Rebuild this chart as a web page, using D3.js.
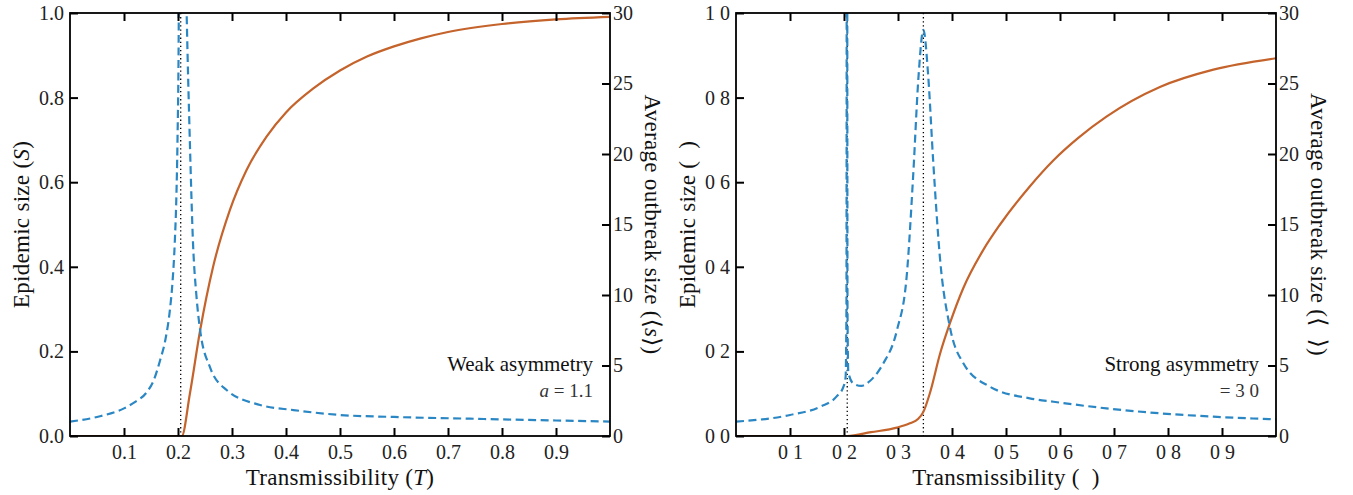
<!DOCTYPE html>
<html>
<head>
<meta charset="utf-8">
<script src="https://cdn.jsdelivr.net/npm/d3@7"></script>
<style>
  html, body { margin: 0; padding: 0; background: #fff; }
  svg { display: block; }
  svg text { white-space: pre; font-family: "Liberation Serif", "DejaVu Serif", serif; }
</style>
</head>
<body>
<svg id="chart" width="1353" height="495"></svg>
<script>
// ---------------- DATA ----------------
// Panel A: weak asymmetry (a = 1.1)
const weakEpidemicT = [0, 0.207, 0.222, 0.241, 0.265, 0.296, 0.327, 0.364, 0.4, 0.45, 0.5, 0.55, 0.6, 0.65, 0.7, 0.8, 0.9, 1.0];
const weakEpidemicS = [0, 0, 0.10, 0.25, 0.40, 0.534, 0.629, 0.708, 0.765, 0.821, 0.864, 0.897, 0.921, 0.940, 0.955, 0.974, 0.985, 0.991];

const weakOutbreakT = [0, 0.05, 0.1, 0.12, 0.142, 0.155, 0.167, 0.177, 0.185, 0.19, 0.194, 0.197, 0.199, 0.2015, 0.203, 0.205, 0.209, 0.216, 0.222, 0.228, 0.234, 0.241, 0.259, 0.29, 0.352, 0.414, 0.5, 0.6, 0.75, 0.9, 1.0];
const weakOutbreakS = [1.02, 1.35, 1.96, 2.4, 3.1, 3.95, 5.39, 6.9, 8.94, 11.0, 13.7, 17.0, 20.8, 30, 45, 90, 45, 30, 20.8, 13.5, 10.0, 7.5, 4.9, 3.26, 2.2, 1.84, 1.49, 1.35, 1.22, 1.1, 1.02];

const weakCritical = [0.205];

// Panel B: strong asymmetry (a = 3.0)
const strongEpidemicT = [0, 0.206, 0.25, 0.298, 0.322, 0.337, 0.347, 0.359, 0.378, 0.396, 0.421, 0.458, 0.489, 0.544, 0.588, 0.635, 0.686, 0.785, 0.884, 1.0];
const strongEpidemicS = [0, 0, 0.009, 0.0197, 0.030, 0.040, 0.057, 0.101, 0.195, 0.266, 0.350, 0.44, 0.50, 0.59, 0.652, 0.706, 0.755, 0.825, 0.866, 0.893];

const strongOutbreakT = [0, 0.1, 0.156, 0.186, 0.199, 0.203, 0.2045, 0.2055, 0.2065, 0.208, 0.218, 0.232, 0.248, 0.262, 0.273, 0.298, 0.316, 0.328, 0.338, 0.347, 0.356, 0.365, 0.378, 0.396, 0.421, 0.47, 0.544, 0.588, 0.686, 0.785, 0.884, 1.0];
const strongOutbreakS = [1.02, 1.49, 2.08, 2.79, 3.5, 4.2, 9, 60, 9, 4.5, 3.7, 3.55, 3.9, 4.5, 5.16, 7.5, 11.3, 18.4, 25.5, 28.8, 25.5, 19.6, 12.5, 7.75, 5.16, 3.5, 2.67, 2.43, 1.96, 1.61, 1.37, 1.18];

const strongCritical = [0.206, 0.347];

// Ticks and labels
const xTicks = [0.1, 0.2, 0.3, 0.4, 0.5, 0.6, 0.7, 0.8, 0.9];
const xTickLabelsA = ["0.1", "0.2", "0.3", "0.4", "0.5", "0.6", "0.7", "0.8", "0.9"];
const xTickLabelsB = ["0 1", "0 2", "0 3", "0 4", "0 5", "0 6", "0 7", "0 8", "0 9"];
const yLeftTicks = [0, 0.2, 0.4, 0.6, 0.8, 1.0];
const yLeftLabelsA = ["0.0", "0.2", "0.4", "0.6", "0.8", "1.0"];
const yLeftLabelsB = ["0 0", "0 2", "0 4", "0 6", "0 8", "1 0"];
const yRightTicks = [0, 5, 10, 15, 20, 25, 30];
const yRightLabels = ["0", "5", "10", "15", "20", "25", "30"];

// ---------------- DRAW ----------------
const svg = d3.select("#chart");
const ORANGE = "#c4632b";
const BLUE = "#2b87c4";
const FONT = '"Liberation Serif", "DejaVu Serif", serif';
const yTop = 13, yBottom = 436;

const panels = [
  { id: "A", x0: 70, x1: 610,
    epiT: weakEpidemicT, epiS: weakEpidemicS, outT: weakOutbreakT, outS: weakOutbreakS,
    crit: weakCritical, xLabels: xTickLabelsA, yLabels: yLeftLabelsA,
    yTitle: [["Epidemic size (", false], ["S", true], [")", false]],
    xTitle: [["Transmissibility (", false], ["T", true], [")", false]],
    y2Title: [["Average outbreak size (⟨", false], ["s", true], ["⟩)", false]],
    note1: "Weak asymmetry", note2: [["a", true], [" = 1.1", false]] },
  { id: "B", x0: 736, x1: 1276,
    epiT: strongEpidemicT, epiS: strongEpidemicS, outT: strongOutbreakT, outS: strongOutbreakS,
    crit: strongCritical, xLabels: xTickLabelsB, yLabels: yLeftLabelsB,
    yTitle: [["Epidemic size (  )", false]],
    xTitle: [["Transmissibility (  )", false]],
    y2Title: [["Average outbreak size (⟨  ⟩)", false]],
    note1: "Strong asymmetry", note2: [["= 3 0", false]] }
];

function addSpans(sel, parts) {
  parts.forEach(([t, it]) => {
    sel.append("tspan").text(t).style("font-style", it ? "italic" : "normal");
  });
}

panels.forEach(p => {
  const x = d3.scaleLinear().domain([0, 1]).range([p.x0, p.x1]);
  const yL = d3.scaleLinear().domain([0, 1]).range([yBottom, yTop]);
  const yR = d3.scaleLinear().domain([0, 30]).range([yBottom, yTop]);

  const g = svg.append("g");
  const clipId = "clip" + p.id;
  svg.append("defs").append("clipPath").attr("id", clipId)
    .append("rect").attr("x", p.x0).attr("y", yTop).attr("width", p.x1 - p.x0).attr("height", yBottom - yTop);

  const plot = g.append("g").attr("clip-path", `url(#${clipId})`);

  // critical dotted lines
  p.crit.forEach(c => {
    plot.append("line")
      .attr("x1", x(c)).attr("x2", x(c)).attr("y1", yTop).attr("y2", yBottom)
      .attr("stroke", "#000").attr("stroke-width", 1.3).attr("stroke-dasharray", "1.3,2.8");
  });

  // epidemic size (left axis)
  const epi = p.epiT.map((t, i) => [t, p.epiS[i]]);
  plot.append("path").datum(epi)
    .attr("fill", "none").attr("stroke", ORANGE).attr("stroke-width", 2.2)
    .attr("d", d3.line().x(d => x(d[0])).y(d => yL(d[1])).curve(d3.curveMonotoneX));

  // average outbreak size (right axis)
  const out = p.outT.map((t, i) => [t, p.outS[i]]);
  plot.append("path").datum(out)
    .attr("fill", "none").attr("stroke", BLUE).attr("stroke-width", 2.2)
    .attr("stroke-dasharray", "8,4.5")
    .attr("d", d3.line().x(d => x(d[0])).y(d => yR(d[1])).curve(d3.curveMonotoneX));

  // axes
  const styleAxis = (a) => {
    a.attr("font-family", null).attr("font-size", null);
    a.select(".domain").remove();
    a.selectAll(".tick line").attr("stroke", "#000").attr("stroke-width", 2);
    a.selectAll(".tick text").style("font-family", FONT).style("font-size", "20px").attr("fill", "#222");
  };

  g.append("g").attr("transform", `translate(0,${yBottom})`)
    .call(d3.axisBottom(x).tickValues(xTicks).tickSize(-8).tickPadding(9)
      .tickFormat((d, i) => p.xLabels[i]))
    .call(styleAxis)
    .selectAll(".tick text").attr("dy", "0.72em");

  g.append("g").attr("transform", `translate(0,${yTop})`)
    .call(d3.axisTop(x).tickValues(xTicks).tickSize(-8).tickFormat(""))
    .call(styleAxis);

  g.append("g").attr("transform", `translate(${p.x0},0)`)
    .call(d3.axisLeft(yL).tickValues(yLeftTicks).tickSize(-8).tickPadding(6)
      .tickFormat((d, i) => p.yLabels[i]))
    .call(styleAxis);

  g.append("g").attr("transform", `translate(${p.x1},0)`)
    .call(d3.axisRight(yR).tickValues(yRightTicks).tickSize(-8).tickPadding(3)
      .tickFormat((d, i) => yRightLabels[i]))
    .call(styleAxis);

  // spines
  g.append("rect").attr("x", p.x0).attr("y", yTop).attr("width", p.x1 - p.x0).attr("height", yBottom - yTop)
    .attr("fill", "none").attr("stroke", "#000").attr("stroke-width", 1.8);

  const cx = (p.x0 + p.x1) / 2, cy = (yTop + yBottom) / 2;

  const txt = (sel, size, fill) => sel.style("font-family", FONT).style("font-size", size + "px").attr("fill", fill);

  // x title
  const xt = g.append("text").attr("x", cx).attr("y", 485).attr("text-anchor", "middle").style("letter-spacing", "0.3px");
  txt(xt, 23, "#111");
  addSpans(xt, p.xTitle);

  // left y title
  const yt = g.append("text").attr("transform", `translate(${p.x0 - 41},${cy}) rotate(-90)`)
    .attr("text-anchor", "middle").style("letter-spacing", "0.3px");
  txt(yt, 23, "#111");
  addSpans(yt, p.yTitle);

  // right y title
  const y2t = g.append("text").attr("transform", `translate(${p.x1 + 35},${cy}) rotate(90)`)
    .attr("text-anchor", "middle").style("letter-spacing", "0.3px");
  txt(y2t, 23, "#111");
  addSpans(y2t, p.y2Title);

  // annotations
  const n1 = g.append("text").attr("x", p.x1 - 17).attr("y", 371).attr("text-anchor", "end").text(p.note1);
  txt(n1, 21, "#111");
  const n2 = g.append("text").attr("x", p.x1 - 17).attr("y", 397).attr("text-anchor", "end");
  txt(n2, 19, "#333");
  addSpans(n2, p.note2);
});
</script>
</body>
</html>
